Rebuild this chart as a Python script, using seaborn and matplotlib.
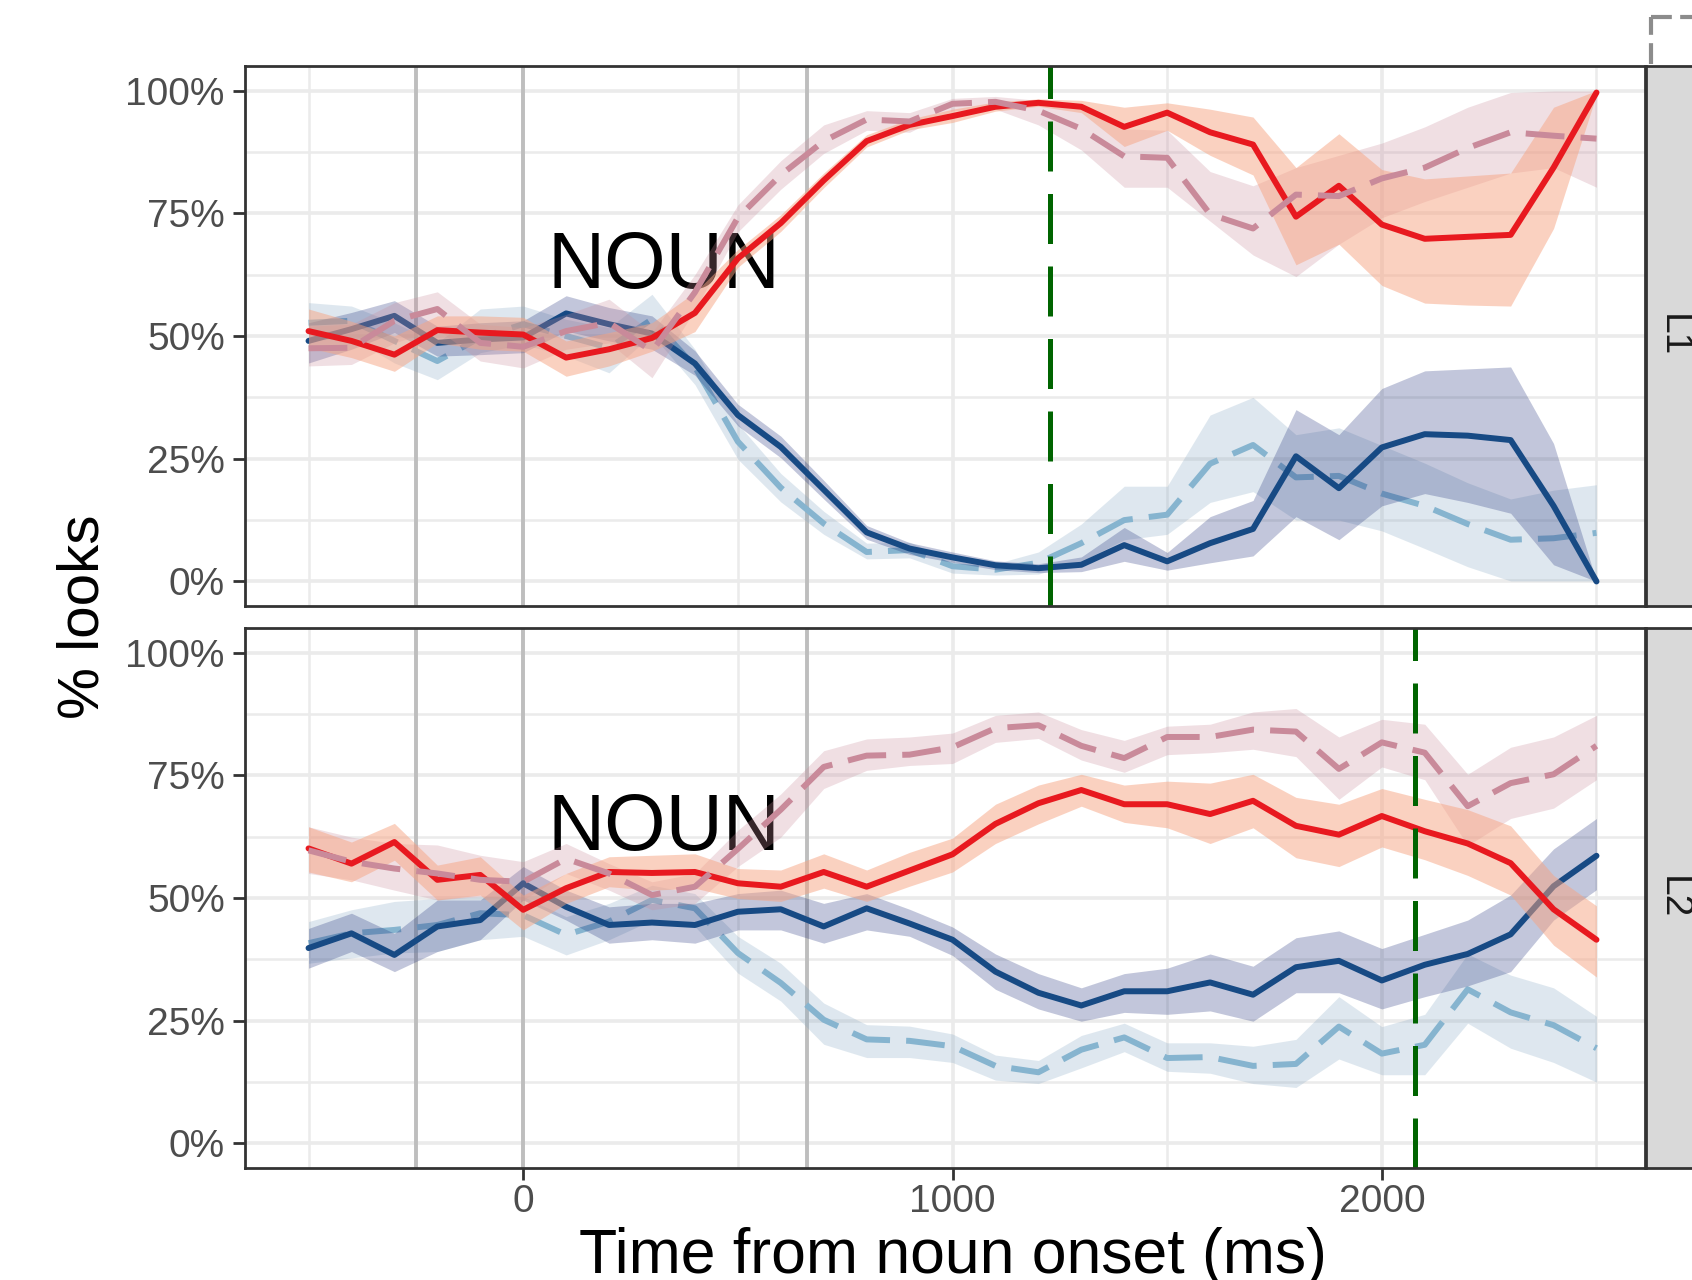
import matplotlib
matplotlib.use("Agg")
import matplotlib.pyplot as plt
import seaborn as sns
import pandas as pd
from matplotlib.lines import Line2D
from matplotlib.ticker import FixedLocator, FixedFormatter

# ---------------- data ----------------
times = [-500, -400, -300, -200, -100, 0, 100, 200, 300, 400, 500, 600, 700, 800, 900,
         1000, 1100, 1200, 1300, 1400, 1500, 1600, 1700, 1800, 1900, 2000, 2100, 2200,
         2300, 2400, 2500]

series_names = ["Target", "Target (other)", "Competitor", "Competitor (other)"]
panels = ["L1", "L2"]

# ---- L1 ----
l1_target = [51, 49, 46.2, 51.2, 50.7, 50.3, 45.6, 47.3, 49.6, 54.7, 65.8, 73, 81.7, 89.7, 93,
             94.8, 96.7, 97.5, 96.7, 92.6, 95.5, 91.5, 89, 74.3, 80.6, 72.7, 69.8, 70.2,
             70.6, 84.3, 99.6]
l1_target_lo = [47.6, 45.6, 42.8, 48.6, 47.3, 46.9, 41.8, 43.9, 46.9, 50.9, 64, 71.3, 80.2, 88.5, 92,
                93.5, 95.8, 96.8, 95.5, 88.6, 91.9, 86.8, 82.8, 64.5, 68.7, 60.3, 56.7, 56.3,
                56.1, 71.9, 99.2]
l1_target_hi = [55.5, 53, 50, 54.1, 54.1, 53.8, 49, 50.7, 52.7, 58.9, 67.6, 74.7, 83.2, 91, 94.2,
                96.2, 97.7, 98.3, 98, 96.6, 97.5, 96.2, 94.6, 84.3, 91.2, 83.9, 82, 82.6,
                83.2, 96.6, 100]

l1_target2 = [47.5, 47.6, 53.1, 55.5, 48.6, 47.8, 51, 52.7, 46.9, 58.9, 74.1, 82.8, 89.7, 94.1, 93.7,
              97.3, 97.7, 95.9, 92.2, 86.6, 86.3, 74.8, 71.9, 78.8, 78.5, 82.1, 84.3, 88.3,
              91.5, 90.8, 90.2]
l1_target2_lo = [43.9, 44.2, 48.6, 51.4, 44.9, 43.5, 47.3, 48.6, 41.5, 55.3, 71.2, 79.9, 87.2, 91.9, 91.5,
                 95.9, 96.2, 93, 87.9, 80.3, 80.3, 73.4, 66.5, 62.1, 68.7, 74.1, 77.4, 80.3,
                 83.2, 84.3, 80.3]
l1_target2_hi = [52, 52.4, 56.8, 59, 52.4, 51.7, 54.4, 57.5, 50.7, 62.5, 76.7, 85.7, 93, 95.9, 95.5,
                 98.4, 98.8, 98, 97, 92.2, 91.9, 83.5, 80.6, 84.3, 86.8, 89.3, 92.6, 96.6,
                 99.6, 99.9, 99.9]

l1_comp = [49, 51.4, 54.1, 48.6, 49.3, 49.7, 54.6, 52.4, 50.5, 44.4, 33.9, 27.4, 18.7, 10, 6.7,
           4.9, 3.3, 2.7, 3.4, 7.4, 4.1, 7.8, 10.7, 25.5, 19, 27.3, 30, 29.7,
           28.8, 15.4, 0]
l1_comp_lo = [44.5, 47.3, 50.7, 45.9, 46.2, 46.6, 51, 49, 47.3, 42, 31.7, 25.2, 16.8, 8.6, 5.5,
              3.9, 2.4, 1.8, 2, 4.1, 2.3, 3.8, 5.2, 13.2, 8.5, 15.4, 17.9, 16.1,
              13.9, 3.4, 0]
l1_comp_hi = [52.7, 54.8, 57.2, 52, 52.7, 53.1, 58.2, 55.8, 54.1, 47, 36.1, 29.6, 20.6, 11.4, 7.9,
              6, 4.2, 3.6, 5, 11, 5.9, 13.2, 16.5, 35, 29.9, 39.3, 42.9, 43.3,
              43.7, 28.1, 0]

l1_comp2 = [52.7, 53.1, 49, 44.9, 49.7, 52.4, 50, 47.6, 53.4, 43.7, 28.5, 19.1, 11.8, 6, 6.4,
            3.1, 2.4, 3.8, 7.8, 12.5, 13.6, 24, 27.8, 21.2, 21.5, 17.9, 15.4, 11.7,
            8.5, 8.8, 9.9]
l1_comp2_lo = [49, 49.7, 44.5, 41.1, 46.6, 48.3, 45.9, 42.5, 50.3, 40.1, 24.9, 16.2, 9.6, 4.6, 4.8,
               1.7, 1.3, 1.5, 4.1, 8.5, 9.6, 16.1, 18.3, 12.5, 12.5, 10.3, 6.7, 3,
               0.1, 0.1, 0.1]
l1_comp2_hi = [56.8, 56.1, 52.7, 48.6, 55.5, 56.1, 53.4, 51.7, 58.5, 47.3, 32.1, 22, 14.3, 7.8, 8,
               4.2, 3.6, 6, 11.7, 19.4, 19.4, 33.9, 37.5, 29.9, 31.3, 27.7, 24.1, 20.1,
               16.8, 18.6, 19.7]

# ---- L2 ----
l2_target = [60.1, 57, 61.4, 53.7, 54.7, 47.6, 52, 55.3, 55.1, 55.3, 53, 52.3, 55.3, 52.3, 55.6,
             58.9, 65.1, 69.3, 72, 69.1, 69.1, 67.1, 69.8, 64.7, 62.9, 66.7, 63.6, 61.1,
             57.1, 47.7, 41.5]
l2_target_lo = [55.3, 53.3, 57.7, 49.6, 50.6, 43.5, 48.9, 52.3, 51.6, 52, 49.9, 49.3, 52, 49.3, 52.4,
                55.3, 61.1, 65.1, 68.7, 65.4, 64.3, 61.1, 64.3, 58.2, 56.4, 60.4, 57.8, 54.6,
                50.6, 40.4, 33.9]
l2_target_hi = [64.5, 61.4, 65.2, 56.7, 58.4, 50.6, 55, 58.4, 58.7, 59, 56, 55.7, 59, 55.7, 59.3,
                62.2, 69.1, 73, 75.2, 73, 73.8, 73.4, 75.2, 70.5, 69.1, 72.3, 70.1, 68,
                64.7, 54.6, 48.4]

l2_target2 = [59.7, 57.4, 56, 55, 53.7, 53.3, 58, 55, 50.6, 52.3, 60, 68, 76.7, 79, 79.2,
              80.7, 84.6, 85.2, 81, 78.5, 82.8, 82.8, 84.3, 83.9, 76.3, 81.7, 79.6, 68.7,
              73.4, 75.2, 81]
l2_target2_lo = [55, 53.7, 51.6, 49.6, 50.3, 49.6, 55, 51.6, 47.6, 48.9, 56.4, 62.4, 72.3, 76, 77,
                 77.4, 81.7, 82.5, 78.1, 75.6, 79.2, 79.6, 80.3, 78.8, 70.1, 76.7, 74.1, 60.7,
                 66.2, 68.3, 74.1]
l2_target2_hi = [64.5, 62.4, 61.1, 60.8, 58.7, 57.4, 61.1, 57, 53.3, 55, 63.8, 71.2, 80, 82.4, 82.8,
                 83.6, 87.2, 87.9, 84.3, 82.1, 85, 85.4, 87.9, 88.6, 82.8, 86.4, 85.4, 75.2,
                 80.7, 82.8, 87.2]

l2_comp = [39.8, 42.8, 38.4, 44.2, 45.5, 53, 48.2, 44.5, 45, 44.5, 47.2, 47.7, 44.2, 47.9, 44.8,
           41.5, 35, 30.7, 28.1, 31, 31, 32.8, 30.3, 35.9, 37.2, 33.2, 36.4, 38.6,
           42.6, 52.4, 58.6]
l2_comp_lo = [35.7, 39.1, 35, 39.1, 41.5, 49.6, 45.5, 40.8, 41.5, 40.8, 43.5, 43.5, 40.8, 43.5, 42.2,
              38.3, 31.4, 27.4, 24.9, 26.7, 26.3, 27, 24.9, 30.7, 30.7, 27.4, 29.9, 32.1,
              35, 45.5, 51.7]
l2_comp_hi = [43.8, 46.9, 42.8, 49.6, 49.6, 56.4, 51.6, 48.2, 48.9, 48.9, 50.9, 51.6, 48.9, 50.9, 47.7,
              44.1, 38.6, 34.6, 31.7, 34.6, 35.7, 38.6, 36.1, 41.9, 43.3, 39.7, 42.6, 45.5,
              50.6, 60, 66.2]

l2_comp2 = [40.8, 42.8, 43.5, 44.5, 46.9, 46.5, 42.5, 45.2, 49.6, 47.9, 38.8, 32.7, 25.2, 21.2, 20.9,
            19.8, 15.8, 14.5, 19.1, 21.6, 17.4, 17.6, 15.8, 16.2, 23.8, 18.3, 20.1, 31.4,
            26.7, 24.1, 19.4]
l2_comp2_lo = [36.7, 37.8, 38.8, 39.1, 41.5, 42.2, 38.4, 41.5, 45.5, 44.2, 34.7, 29, 20.2, 17.5, 17.5,
               16.5, 12.9, 12.2, 15.4, 18.7, 14.7, 14.3, 12.2, 11.4, 17.2, 14, 14, 24.5,
               19.4, 16.5, 12.5]
l2_comp2_hi = [45.2, 47.6, 49.3, 49.9, 50.3, 50.3, 46.2, 48.9, 52.6, 50.9, 42.2, 36.7, 28.6, 24.2, 23.9,
               22.3, 18, 16.9, 22, 24.5, 20.5, 20.5, 19.8, 21.2, 29.9, 23.8, 26.3, 38.6,
               34.3, 31.7, 25.9]

data = {
    "L1": {"Target": (l1_target, l1_target_lo, l1_target_hi),
           "Target (other)": (l1_target2, l1_target2_lo, l1_target2_hi),
           "Competitor": (l1_comp, l1_comp_lo, l1_comp_hi),
           "Competitor (other)": (l1_comp2, l1_comp2_lo, l1_comp2_hi)},
    "L2": {"Target": (l2_target, l2_target_lo, l2_target_hi),
           "Target (other)": (l2_target2, l2_target2_lo, l2_target2_hi),
           "Competitor": (l2_comp, l2_comp_lo, l2_comp_hi),
           "Competitor (other)": (l2_comp2, l2_comp2_lo, l2_comp2_hi)},
}

gray_lines = [-250, 0, 660]
green_lines = {"L1": 1227, "L2": 2078}
y_ticks = [0, 25, 50, 75, 100]
y_tick_labels = ["0%", "25%", "50%", "75%", "100%"]
x_ticks = [0, 1000, 2000]
x_tick_labels = ["0", "1000", "2000"]

# ---------------- styles ----------------
line_colors = {"Target": "#e8191f", "Target (other)": "#c98a9a",
               "Competitor": "#174a84", "Competitor (other)": "#86b4cf"}
line_styles = {"Target": "-", "Target (other)": (0, (6.5, 2.7)),
               "Competitor": "-", "Competitor (other)": (0, (6.5, 2.7))}
ribbon_style = {"Target": ("#f7a482", 0.5), "Target (other)": ("#c98a9a", 0.27),
                "Competitor": ("#1f2f7a", 0.27), "Competitor (other)": ("#7fa3c0", 0.25)}
# layering: (series, 'ribbon' | 'line')
layer_order = [("Competitor (other)", "ribbon"), ("Competitor (other)", "line"),
               ("Competitor", "ribbon"), ("Competitor", "line"),
               ("Target (other)", "ribbon"), ("Target", "ribbon"),
               ("Target", "line"), ("Target (other)", "line")]
LW = 4.3

sns.set_theme(style="white")
plt.rcParams["font.family"] = ["Liberation Sans", "DejaVu Sans"]
plt.rcParams["lines.linewidth"] = LW

rows = []
for p in panels:
    for s in series_names:
        for t, v in zip(times, data[p][s][0]):
            rows.append({"panel": p, "series": s, "time": t, "value": v})
df = pd.DataFrame(rows)

W, H = 1692, 1280
fig = plt.figure(figsize=(W / 100, H / 100), dpi=100)
fig.patch.set_facecolor("white")

panel_boxes = {"L1": (66, 606), "L2": (628, 1168)}
left_px, right_px = 245, 1645
TICK_FS = 28

for i, p in enumerate(panels):
    top, bot = panel_boxes[p]
    ax = fig.add_axes([left_px / W, 1 - bot / H, (right_px - left_px) / W, (bot - top) / H])
    ax.set_facecolor("white")
    ax.set_axisbelow(True)

    for gx in gray_lines:
        ax.axvline(gx, color="#bebebe", linewidth=2.8, zorder=1.5)

    ax.text(328, 59.8, "NOUN", fontsize=57, ha="center", va="baseline",
            color="black", zorder=1.8)

    for k, (s, kind) in enumerate(layer_order):
        z = 2 + k * 0.05
        if kind == "ribbon":
            c, a = ribbon_style[s]
            _, lo, hi = data[p][s]
            ax.fill_between(times, lo, hi, color=c, alpha=a, linewidth=0, zorder=z)
        else:
            sub = df[(df["panel"] == p) & (df["series"] == s)]
            n_before = len(ax.lines)
            sns.lineplot(data=sub, x="time", y="value", color=line_colors[s],
                         linewidth=LW, estimator=None, errorbar=None,
                         legend=False, ax=ax)
            for ln in ax.lines[n_before:]:
                ln.set_linestyle(line_styles[s])
                ln.set_linewidth(LW)
                ln.set_zorder(z)
                ln.set_solid_joinstyle("round")
                ln.set_dash_capstyle("butt")

    ax.axvline(green_lines[p], color="#006400", linewidth=3.6,
               dashes=(10, 4.5), zorder=5)

    ax.set_xlim(-648, 2613)
    ax.set_ylim(-5, 105)
    ax.xaxis.set_major_locator(FixedLocator(x_ticks))
    ax.xaxis.set_minor_locator(FixedLocator([-500, 500, 1500, 2500]))
    ax.yaxis.set_major_locator(FixedLocator(y_ticks))
    ax.yaxis.set_minor_locator(FixedLocator([12.5, 37.5, 62.5, 87.5]))
    ax.yaxis.set_major_formatter(FixedFormatter(y_tick_labels))
    ax.grid(which="major", color="#ebebeb", linewidth=2.6)
    ax.grid(which="minor", color="#ebebeb", linewidth=1.8)

    ax.set_xlabel("")
    ax.set_ylabel("")
    for sp in ax.spines.values():
        sp.set_color("#333333")
        sp.set_linewidth(2)
        sp.set_visible(True)
        sp.set_zorder(6)
    ax.tick_params(axis="y", which="major", length=8.5, width=2, color="#333333",
                   labelsize=TICK_FS, labelcolor="#4d4d4d", pad=6, left=True)
    ax.tick_params(which="minor", length=0)
    if i == 0:
        ax.tick_params(axis="x", which="major", length=0, labelbottom=False)
    else:
        ax.xaxis.set_major_formatter(FixedFormatter(x_tick_labels))
        ax.tick_params(axis="x", which="major", length=8.5, width=2, color="#333333",
                       labelsize=TICK_FS, labelcolor="#4d4d4d", pad=3, bottom=True)

    # facet strip (partly outside the figure, as in the reference)
    sax = fig.add_axes([1646 / W, 1 - bot / H, 60 / W, (bot - top) / H])
    sax.set_facecolor("#d9d9d9")
    sax.set_xticks([])
    sax.set_yticks([])
    sax.grid(False)
    for sp in sax.spines.values():
        sp.set_color("#333333")
        sp.set_linewidth(2)
    sax.text(0.45, 0.5, p, rotation=-90, ha="center", va="center",
             fontsize=TICK_FS, color="#1a1a1a", transform=sax.transAxes)

# axis titles
fig.text(953 / W, 1 - 1273 / H, "Time from noun onset (ms)", ha="center",
         va="baseline", fontsize=45, color="black")
fig.text(83.5 / W, 1 - 617 / H, "% looks", rotation=90, ha="center",
         va="center", fontsize=42, color="black")

# dashed legend frame corner, cut off at the top right
fig.add_artist(Line2D([1651 / W, 1651 / W], [1 - 64 / H, 1 - 17 / H],
                      transform=fig.transFigure, color="#8c8c8c", linewidth=3,
                      dashes=(5, 2)))
fig.add_artist(Line2D([1651 / W, 1700 / W], [1 - 17 / H, 1 - 17 / H],
                      transform=fig.transFigure, color="#8c8c8c", linewidth=3,
                      dashes=(5, 2)))

fig.savefig("out.png", dpi=100, facecolor="white")
